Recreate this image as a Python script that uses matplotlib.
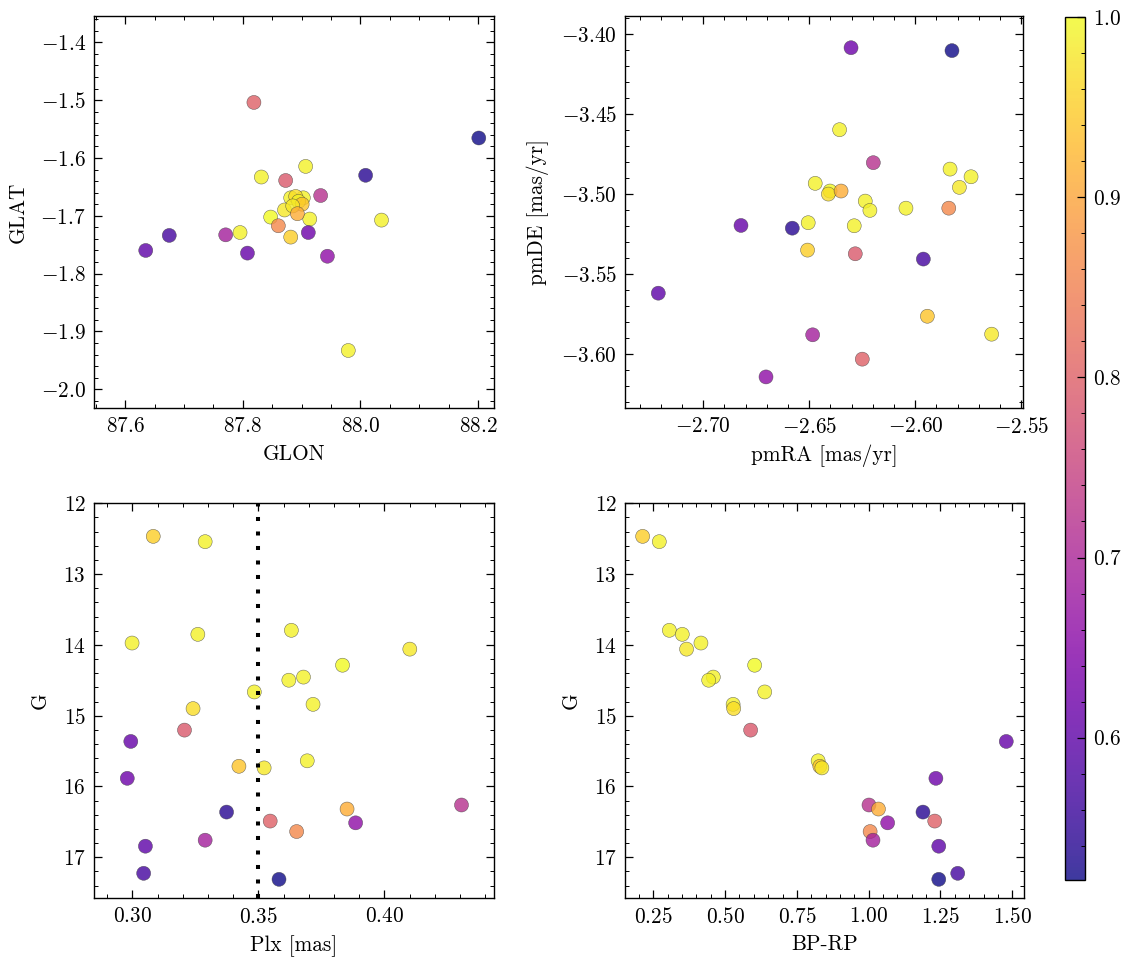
import matplotlib
matplotlib.use("Agg")
import matplotlib.pyplot as plt
from matplotlib.ticker import MultipleLocator, FuncFormatter
import numpy as np

plt.rcParams.update({
    "font.family": "serif",
    "font.serif": ["cmr10", "DejaVu Serif"],
    "mathtext.fontset": "cm",
    "axes.formatter.use_mathtext": True,
    "font.size": 15.3,
    "axes.linewidth": 1.0,
})

# ---- data (one entry per star) ----
prob = [0.95, 0.99, 0.99, 0.99, 0.99, 0.98, 1.00, 0.99, 0.99, 0.99, 0.99, 0.97,
        0.79, 0.61, 0.99, 0.94, 0.98, 0.62, 0.72, 0.91, 0.54, 0.80, 0.66, 0.86,
        0.69, 0.60, 0.57, 0.521]
plx = [0.3083, 0.3289, 0.3631, 0.3260, 0.2999, 0.4101, 0.3834, 0.3679, 0.3621,
       0.3484, 0.3717, 0.3241, 0.3207, 0.2994, 0.3694, 0.3423, 0.3523, 0.2980,
       0.4306, 0.3852, 0.3374, 0.3547, 0.3886, 0.3652, 0.3289, 0.3052, 0.3045,
       0.3582]
gmag = [12.467, 12.542, 13.794, 13.851, 13.974, 14.060, 14.287, 14.455, 14.499,
        14.665, 14.840, 14.900, 15.204, 15.364, 15.638, 15.715, 15.738, 15.885,
        16.262, 16.319, 16.362, 16.489, 16.514, 16.637, 16.759, 16.844, 17.227,
        17.312]
bprp = [0.213, 0.271, 0.306, 0.351, 0.416, 0.366, 0.603, 0.459, 0.443, 0.638,
        0.528, 0.530, 0.589, 1.479, 0.824, 0.830, 0.837, 1.234, 1.001, 1.034,
        1.189, 1.230, 1.066, 1.005, 1.015, 1.244, 1.310, 1.244]
glon = [87.8816, 87.907, 87.8316, 87.8816, 87.903, 87.871, 87.8475, 87.914,
        88.036, 87.7954, 87.9795, 87.890, 87.873, 87.808, 87.895, 87.901,
        87.885, 87.9115, 87.9325, 87.893, 88.009, 87.819, 87.944, 87.8605,
        87.771, 87.635, 87.675, 88.2015]
glat = [-1.7369, -1.6146, -1.633, -1.669, -1.669, -1.690, -1.7023, -1.7057,
        -1.7075, -1.729, -1.933, -1.6666, -1.639, -1.7646, -1.675, -1.680,
        -1.683, -1.729, -1.665, -1.6965, -1.630, -1.504, -1.770, -1.7173,
        -1.733, -1.760, -1.734, -1.5655]
pmra = [-2.6508, -2.6357, -2.5836, -2.5737, -2.6472, -2.5792, -2.6402, -2.6236,
        -2.6044, -2.6214, -2.6505, -2.6410, -2.6283, -2.6822, -2.6288, -2.5943,
        -2.5640, -2.6303, -2.6198, -2.6350, -2.6580, -2.6250, -2.6704, -2.5842,
        -2.6484, -2.7212, -2.5962, -2.5827]
pmde = [-3.5350, -3.4598, -3.4844, -3.4892, -3.4933, -3.4958, -3.4981, -3.5044,
        -3.5088, -3.5102, -3.5179, -3.5000, -3.5373, -3.5196, -3.5198, -3.5763,
        -3.5875, -3.4086, -3.4804, -3.4981, -3.5213, -3.6031, -3.6142, -3.5088,
        -3.5879, -3.5619, -3.5406, -3.4104]
plx_cut = 0.35

W, H = 1133, 965
fig = plt.figure(figsize=(W / 100, H / 100), dpi=100)


def add_ax(l, r, t, b):
    return fig.add_axes([l / W, 1 - b / H, (r - l) / W, (b - t) / H])


def fmt(nd):
    return FuncFormatter(lambda v, pos: "$%.*f$" % (nd, v))


ax_tl = add_ax(94, 493.5, 15.7, 408.3)
ax_tr = add_ax(625, 1023, 15.7, 408.3)
ax_bl = add_ax(94, 493.5, 503.3, 898.3)
ax_br = add_ax(625, 1023.5, 503.3, 898.3)
cax = add_ax(1064.5, 1085, 17, 880)

vmin, vmax = 0.521, 1.0
kw = dict(c=prob, cmap="plasma", vmin=vmin, vmax=vmax, s=102, alpha=0.8,
          edgecolors="0.25", linewidths=0.35, zorder=3)

sc = ax_tl.scatter(glon, glat, **kw)
ax_tr.scatter(pmra, pmde, **kw)
ax_bl.scatter(plx, gmag, **kw)
ax_br.scatter(bprp, gmag, **kw)
ax_bl.axvline(plx_cut, color="k", lw=2.9, linestyle=(0, (1, 2.6)), zorder=4)

ax_tl.set_xlim(87.547, 88.2265)
ax_tl.set_ylim(-2.033, -1.354)
ax_tr.set_xlim(-2.7369, -2.5492)
ax_tr.set_ylim(-3.6338, -3.3886)
ax_bl.set_xlim(0.2848, 0.4433)
ax_bl.set_ylim(17.58, 12.0)
ax_br.set_xlim(0.1516, 1.539)
ax_br.set_ylim(17.58, 12.0)

xl = dict(labelpad=6)
yl = dict(labelpad=9)
ax_tl.set_xlabel("GLON", **xl)
ax_tl.set_ylabel("GLAT", **yl)
ax_tr.set_xlabel("pmRA [mas/yr]", **xl)
ax_tr.set_ylabel("pmDE [mas/yr]", **yl)
ax_bl.set_xlabel("Plx [mas]", **xl)
ax_bl.set_ylabel("G", **yl)
ax_br.set_xlabel("BP-RP", **xl)
ax_br.set_ylabel("G", **yl)

locs = {
    ax_tl: (0.2, 0.05, 0.1, 0.02, 1, 1),
    ax_tr: (0.05, 0.01, 0.05, 0.01, 2, 2),
    ax_bl: (0.05, 0.01, 1, 0.2, 2, 0),
    ax_br: (0.25, 0.05, 1, 0.2, 2, 0),
}
for ax, (xM, xm, yM, ym, xd, yd) in locs.items():
    ax.xaxis.set_major_locator(MultipleLocator(xM))
    ax.xaxis.set_minor_locator(MultipleLocator(xm))
    ax.yaxis.set_major_locator(MultipleLocator(yM))
    ax.yaxis.set_minor_locator(MultipleLocator(ym))
    ax.xaxis.set_major_formatter(fmt(xd))
    ax.yaxis.set_major_formatter(fmt(yd))
    ax.tick_params(which="both", direction="in", top=True, right=True)
    ax.tick_params(which="major", length=5.5, width=0.9, pad=6)
    ax.tick_params(which="minor", length=3, width=0.7)

cb = fig.colorbar(sc, cax=cax)
cb.set_ticks([0.6, 0.7, 0.8, 0.9, 1.0])
cb.ax.yaxis.set_major_formatter(fmt(1))
cb.ax.yaxis.set_minor_locator(MultipleLocator(0.02))
cb.ax.tick_params(which="both", direction="in", right=True, left=False)
cb.ax.tick_params(which="major", length=5.5, width=0.9, pad=6)
cb.ax.tick_params(which="minor", length=3, width=0.7)
cb.outline.set_linewidth(1.0)

fig.savefig("out.png", dpi=100)
